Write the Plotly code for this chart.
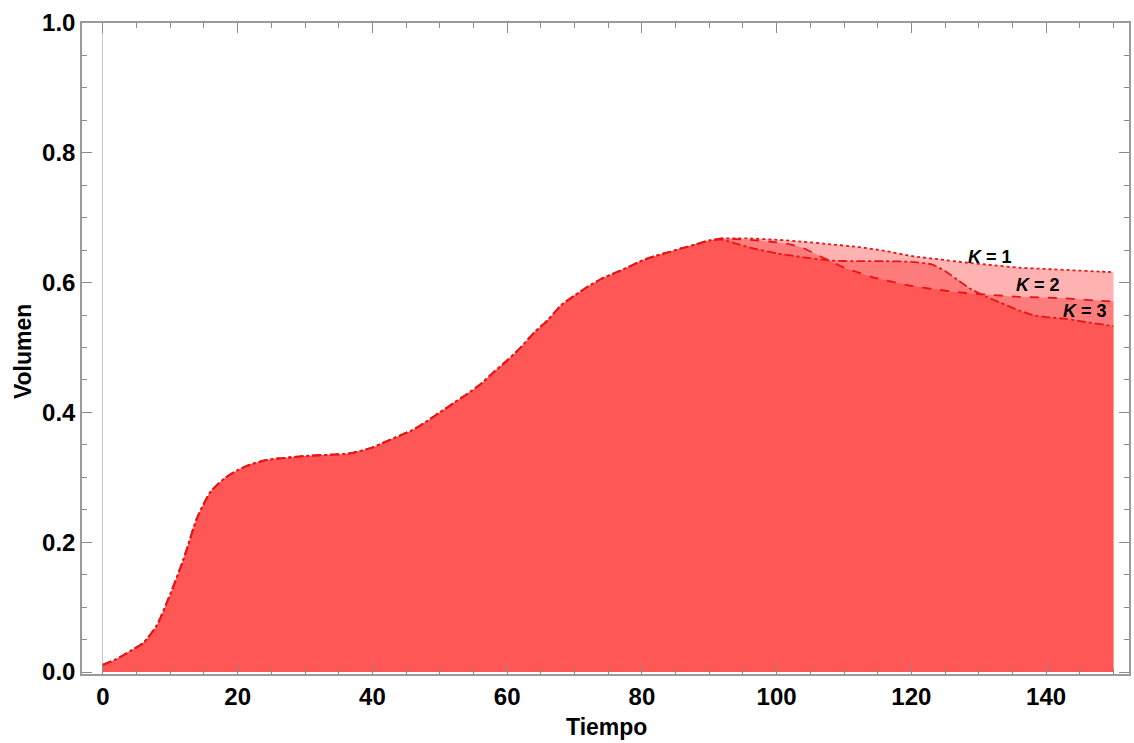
import plotly.graph_objects as go

# Common part (all K identical)
t_common = [0, 2, 4, 6, 8, 10, 12, 14, 16, 18, 20, 22, 24, 26, 28, 30, 32, 34, 36, 38,
            40, 42, 44, 46, 48, 50, 52, 54, 56, 58, 60, 62, 64, 66, 68, 70, 72, 74, 76,
            78, 80, 82, 84, 86, 88, 90]
v_common = [0.011, 0.020, 0.032, 0.045, 0.072, 0.120, 0.175, 0.238, 0.278, 0.298, 0.311,
            0.320, 0.326, 0.329, 0.331, 0.333, 0.334, 0.335, 0.336, 0.340, 0.346, 0.355,
            0.364, 0.373, 0.386, 0.400, 0.414, 0.428, 0.443, 0.462, 0.480, 0.500, 0.523,
            0.542, 0.565, 0.580, 0.594, 0.606, 0.615, 0.624, 0.634, 0.641, 0.647, 0.653,
            0.659, 0.665]

t_k1 = [92, 94, 96, 100, 104, 108, 112, 116, 120, 124, 128, 132, 136, 140, 144, 148, 150]
v_k1 = [0.668, 0.668, 0.668, 0.666, 0.663, 0.659, 0.655, 0.649, 0.641, 0.636, 0.631,
        0.627, 0.623, 0.621, 0.619, 0.617, 0.616]

t_k2 = [92, 94, 96, 100, 102, 104, 106, 108, 110, 112, 114, 116, 120, 124, 128, 132,
        136, 140, 144, 148, 150]
v_k2 = [0.668, 0.667, 0.666, 0.662, 0.659, 0.653, 0.643, 0.633, 0.623, 0.616, 0.609,
        0.604, 0.595, 0.589, 0.584, 0.581, 0.578, 0.577, 0.575, 0.572, 0.571]

t_k3 = [92, 94, 96, 100, 104, 108, 112, 116, 120, 123, 125, 127, 129, 131, 133, 136,
        138, 140, 143, 146, 150]
v_k3 = [0.666, 0.660, 0.654, 0.645, 0.639, 0.634, 0.633, 0.633, 0.632, 0.628, 0.618,
        0.603, 0.589, 0.579, 0.570, 0.557, 0.550, 0.547, 0.544, 0.539, 0.533]

series = [
    ("K = 1", t_k1, v_k1, "dot"),
    ("K = 2", t_k2, v_k2, "dash"),
    ("K = 3", t_k3, v_k3, "dashdot"),
]

fig = go.Figure()
for name, tx, vy, dash in series:
    fig.add_trace(go.Scatter(
        x=t_common + tx, y=v_common + vy, mode="lines", name=name,
        line=dict(color="rgb(235,20,20)", width=1.8, dash=dash, shape="spline", smoothing=0.6),
        fill="tozeroy", fillcolor="rgba(255,0,0,0.3)", showlegend=False,
    ))

label_font = dict(family="Liberation Sans", size=18, color="black")
labels = [("<b><i>K</i> = 1</b>", 131.7, 0.639),
          ("<b><i>K</i> = 2</b>", 138.8, 0.597),
          ("<b><i>K</i> = 3</b>", 145.8, 0.556)]
for txt, lx, ly in labels:
    fig.add_annotation(x=lx, y=ly, text=txt, showarrow=False, font=label_font)

title_font = dict(family="Liberation Sans", size=23, color="black", weight="bold")
fig.add_annotation(xref="paper", yref="paper", x=0.501, y=-0.0814, text="Tiempo",
                   showarrow=False, font=title_font, yanchor="middle")
fig.add_annotation(xref="paper", yref="paper", x=-0.057, y=0.495, text="Volumen",
                   showarrow=False, font=title_font, textangle=-90, xanchor="center")

tick_font = dict(family="Liberation Sans", size=24, color="black", weight="bold")
axis_common = dict(
    showline=True, linecolor="#9a9a9a", linewidth=1.5, mirror="allticks",
    ticks="inside", ticklen=10, tickcolor="#8a8a8a", tickwidth=1,
    showgrid=False, tickfont=tick_font,
)

fig.update_xaxes(
    range=[-3.1, 152.3], tickmode="array", tickvals=[0, 20, 40, 60, 80, 100, 120, 140],
    zeroline=True, zerolinecolor="#c8c8c8", zerolinewidth=1,
    minor=dict(dtick=5, tick0=0, ticks="inside", ticklen=5, tickcolor="#8a8a8a"),
    **axis_common,
)
fig.update_yaxes(
    range=[-0.003, 1.0], tickmode="array", tickvals=[0, 0.2, 0.4, 0.6, 0.8, 1.0],
    tickformat=".1f", zeroline=False,
    minor=dict(dtick=0.05, tick0=0, ticks="inside", ticklen=5, tickcolor="#8a8a8a"),
    **axis_common,
)

fig.update_layout(
    width=1134, height=743,
    margin=dict(l=82, r=3, t=23, b=69),
    plot_bgcolor="white", paper_bgcolor="white",
)

fig.write_html("out.html")
